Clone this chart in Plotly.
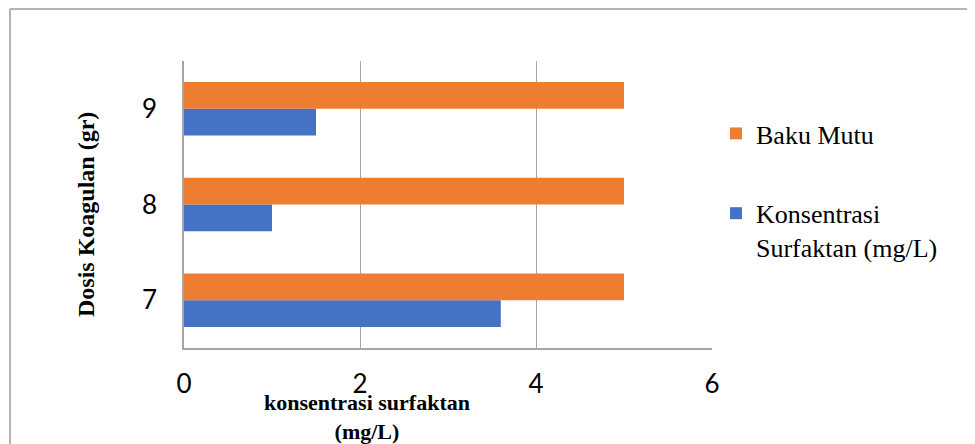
import plotly.graph_objects as go

# Data
dosis = ["7", "8", "9"]
konsentrasi = [3.6, 1.0, 1.5]
baku_mutu = [5, 5, 5]
x_ticks = [0, 2, 4, 6]

# Layout geometry (pixels in the reference; page body has an 8px margin)
OFF = 8
W, H = 975 - OFF, 444 - OFF
L, R, T, B = 184 - OFF, 712 - OFF, 61 - OFF, 348 - OFF


def px(x):
    return (x - OFF - L) / (R - L)


def py(y):
    return (B - (y - OFF)) / (B - T)


fig = go.Figure()
fig.add_trace(go.Bar(
    y=dosis, x=konsentrasi, orientation="h",
    name="Konsentrasi<br>Surfaktan (mg/L)",
    marker=dict(color="#4472C4", line=dict(width=0)),
    legendgroup="a", legendrank=2,
))
fig.add_trace(go.Bar(
    y=dosis, x=baku_mutu, orientation="h",
    name="Baku Mutu",
    marker=dict(color="#ED7D31", line=dict(width=0)),
    legendgroup="b", legendrank=1,
))

fig.update_layout(
    width=W, height=H,
    margin=dict(l=L, r=W - R, t=T, b=H - B, autoexpand=False),
    paper_bgcolor="white", plot_bgcolor="white",
    barmode="group", bargap=0.44, bargroupgap=0,
    showlegend=True,
    legend=dict(
        x=px(716), y=py(110), xanchor="left", yanchor="top",
        traceorder="grouped", tracegroupgap=43,
        valign="top",
        font=dict(family="Liberation Serif", size=26, color="black"),
        bgcolor="rgba(0,0,0,0)",
    ),
    xaxis=dict(
        range=[0, 6], tickvals=x_ticks, ticktext=[str(v) for v in x_ticks],
        showgrid=True, gridcolor="#a6a6a6", gridwidth=1,
        showline=True, linecolor="#a6a6a6", linewidth=1.5,
        zeroline=False, ticks="", ticklabelstandoff=12,
        tickfont=dict(family="Lato", size=26, color="black"),
    ),
    yaxis=dict(
        type="category", categoryorder="array", categoryarray=dosis,
        showgrid=False, showline=True, linecolor="#a6a6a6", linewidth=1.5,
        ticks="", ticklabelstandoff=20,
        tickfont=dict(family="Lato", size=26, color="black"),
    ),
    annotations=[
        dict(text="<b>konsentrasi surfaktan<br>(mg/L)</b>",
             xref="paper", yref="paper", x=px(367), y=py(417),
             xanchor="center", yanchor="middle", showarrow=False,
             font=dict(family="Liberation Serif", size=22, color="black")),
        dict(text="<b>Dosis Koagulan (gr)</b>",
             xref="paper", yref="paper", x=px(86), y=py(215),
             xanchor="center", yanchor="middle", showarrow=False, textangle=-90,
             font=dict(family="Liberation Serif", size=24, color="black")),
    ],
    shapes=[
        dict(type="line", xref="paper", yref="paper",
             x0=px(10), x1=px(10), y0=py(9), y1=py(460),
             line=dict(color="#b4b4b4", width=2)),
        dict(type="line", xref="paper", yref="paper",
             x0=px(10), x1=px(990), y0=py(9), y1=py(9),
             line=dict(color="#b4b4b4", width=2)),
    ],
)

fig.write_html("out.html")
